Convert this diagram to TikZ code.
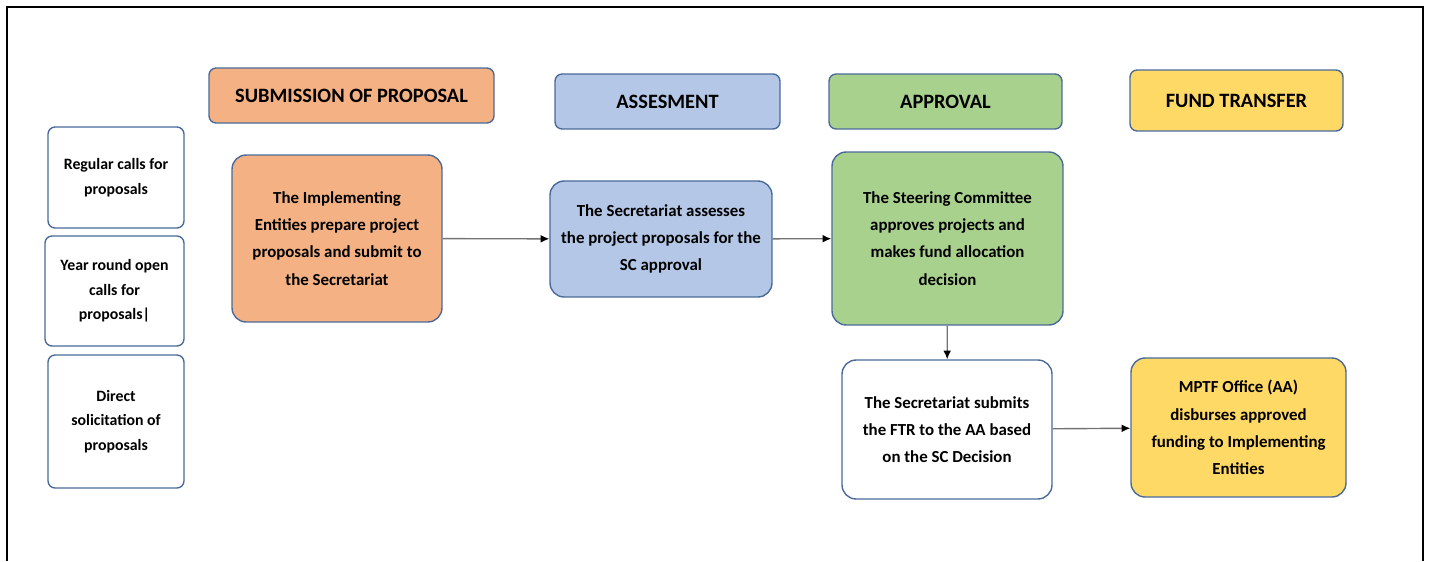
\documentclass[tikz,border=0pt]{standalone}
\usepackage{fontspec}
\setmainfont{Carlito}
\usetikzlibrary{shapes, arrows, arrows.meta}
\definecolor{edgeblue}{HTML}{4A6A9A}
\definecolor{subfill}{HTML}{F4B183}
\definecolor{assfill}{HTML}{B4C7E7}
\definecolor{appfill}{HTML}{A9D18E}
\definecolor{fundfill}{HTML}{FFD966}
\tikzstyle{head} = [rectangle, draw=edgeblue, line width=0.8pt, rounded corners=4pt, text centered, font=\bfseries\fontsize{11.6}{14}\selectfont]
\tikzstyle{stepbox} = [rectangle, draw=edgeblue, line width=0.8pt, rounded corners=8pt, align=center, font=\bfseries\fontsize{9.6}{15.5}\selectfont]
\tikzstyle{callbox} = [rectangle, draw=edgeblue, line width=0.8pt, rounded corners=4pt, align=center, fill=white, font=\bfseries\fontsize{9}{14}\selectfont]
\tikzstyle{line} = [draw=black!55, line width=0.8pt, -{Latex[black, length=5pt, width=4.5pt]}]

\begin{document}
\begin{tikzpicture}[x=0.02cm, y=-0.02cm, auto]
    \useasboundingbox (0,0) rectangle (1429,561);
    \draw[line width=1.4pt] (7,561) -- (7,7) -- (1423,7) -- (1423,561);

    % headers
    \node[head, fill=subfill, minimum width=5.7cm, minimum height=1.1cm] (hsub) at (351.5,95.5) {SUBMISSION OF PROPOSAL};
    \node[head, fill=assfill, minimum width=4.5cm, minimum height=1.1cm] (hass) at (667.5,101.5) {ASSESMENT};
    \node[head, fill=appfill, minimum width=4.66cm, minimum height=1.1cm] (happ) at (945.5,101.5) {APPROVAL};
    \node[head, fill=fundfill, minimum width=4.26cm, minimum height=1.22cm] (hfund) at (1236.5,100.5) {FUND TRANSFER};

    % ways of calling
    \node[callbox, minimum width=2.72cm, minimum height=2.02cm] (regular) at (116,177.5) {Regular calls for\\proposals};
    \node[callbox, minimum width=2.78cm, minimum height=2.2cm] (yearround) at (114.5,291) {Year round open\\calls for\\proposals|};
    \node[callbox, minimum width=2.72cm, minimum height=2.66cm] (direct) at (116,421.5) {Direct\\solicitation of\\proposals};

    % steps
    \node[stepbox, fill=subfill, minimum width=4.2cm, minimum height=3.34cm] (implement) at (337,238.5) {The Implementing\\Entities prepare project\\proposals and submit to\\the Secretariat};
    \node[stepbox, fill=assfill, minimum width=4.44cm, minimum height=2.32cm] (assess) at (661,239) {The Secretariat assesses\\the project proposals for the\\SC approval};
    \node[stepbox, fill=appfill, minimum width=4.62cm, minimum height=3.46cm] (steer) at (947.5,238.5) {The Steering Committee\\approves projects and\\makes fund allocation\\decision};
    \node[stepbox, fill=white, minimum width=4.2cm, minimum height=2.78cm] (submit) at (947,429.5) {The Secretariat submits\\the FTR to the AA based\\on the SC Decision};
    \node[stepbox, fill=fundfill, minimum width=4.3cm, minimum height=2.78cm] (mptf) at (1238.5,427.5) {MPTF Office (AA)\\disburses approved\\funding to Implementing\\Entities};

    \path[line] (implement) -- (assess);
    \path[line] (assess) -- (steer);
    \path[line] (steer) -- (submit);
    \path[line] (submit) -- (mptf);
\end{tikzpicture}
\end{document}
